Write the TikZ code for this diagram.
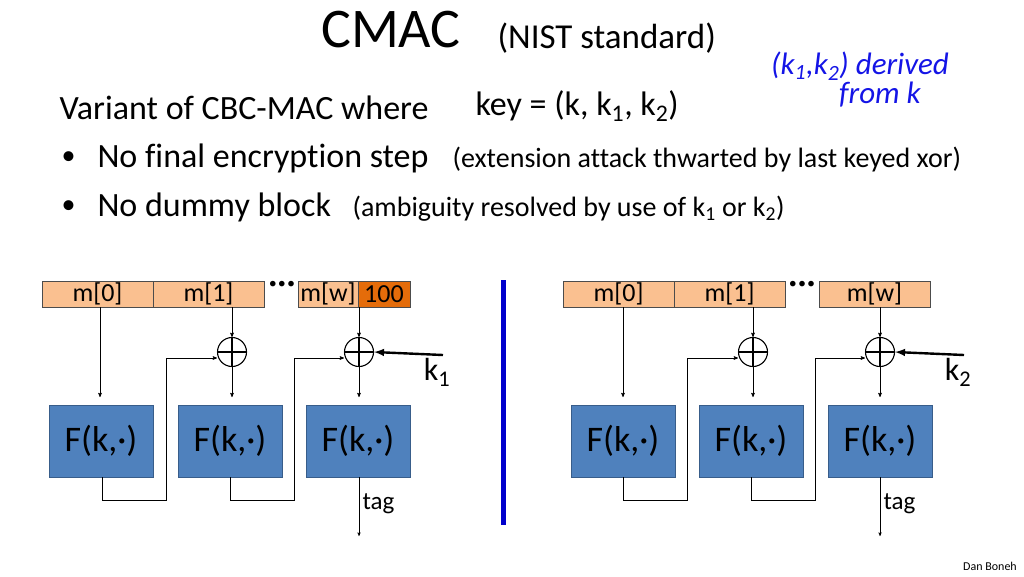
\documentclass[tikz,border=0pt]{standalone}
\usepackage{fontspec}
\setmainfont[Ligatures=NoCommon]{Carlito}
\usetikzlibrary{arrows}
\definecolor{msgfill}{RGB}{250,192,144}
\definecolor{padfill}{RGB}{228,108,10}
\definecolor{prfblue}{RGB}{79,129,189}
\definecolor{prfedge}{RGB}{56,93,138}
\definecolor{inkblue}{RGB}{20,20,230}
\newcommand{\fs}[1]{\fontsize{#1}{#1}\selectfont}
\newcommand{\sub}[1]{\textsubscript{#1}}
\newcommand{\mydots}{\textbf{\textperiodcentered\kern1pt\textperiodcentered\kern1pt\textperiodcentered}}

\begin{document}
\begin{tikzpicture}[x=1pt,y=-1pt,>=stealth',
      msg/.style={draw=black!70,fill=msgfill,minimum height=26pt,inner sep=0pt,font=\fs{26}},
      prf/.style={draw=prfedge,fill=prfblue,minimum width=104pt,minimum height=72pt,font=\fs{36}},
      xor/.style={draw,line width=1.1pt,circle,minimum size=29pt,inner sep=0pt,
        path picture={\draw[line width=1.1pt] (path picture bounding box.north) -- (path picture bounding box.south)
          (path picture bounding box.west) -- (path picture bounding box.east);}},
      wire/.style={->,semithick},
      body/.style={anchor=west,font=\fs{34}},
      note/.style={anchor=west,font=\fs{28}}]

    \useasboundingbox (0,0) rectangle (1024,576);

    % heading
    \node (title) at (391,30) {\fs{56}CMAC};
    \node[note,font=\fs{35}] (nist) at (494,38) {(NIST standard)};
    \node[inkblue,font=\fs{31}\itshape] (hw1) at (860,66) {(k\sub{1},k\sub{2}) derived};
    \node[inkblue,font=\fs{31}\itshape] (hw2) at (880,95) {from k};

    \node[body] (variant) at (56,108) {Variant of CBC-MAC where};
    \node[body] (key) at (472,106) {key = (k, k\sub{1}, k\sub{2})};
    \node[body,font=\fs{28}] (d1) at (58,158) {\textbullet};
    \node[body] (b1) at (94,158) {No final encryption step};
    \node[note] (n1) at (449,160) {(extension attack thwarted by last keyed xor)};
    \node[body,font=\fs{28}] (d2) at (58,207) {\textbullet};
    \node[body] (b2) at (94,207) {No dummy block};
    \node[note] (n2) at (349,209) {(ambiguity resolved by use of k\sub{1} or k\sub{2})};

    % left chain
    \node[msg,minimum width=111pt] (a0) at (97.5,294) {m[0]};
    \node[msg,minimum width=111pt] (a1) at (208.5,294) {m[1]};
    \node (adots) at (282,287) {\fs{30}\mydots};
    \node[msg,minimum width=60pt] (aw) at (328,294) {m[w]};
    \node[msg,fill=padfill,minimum width=52pt] (apad) at (384,294) {100};

    \node[xor] (ax1) at (232,352) {};
    \node[xor] (ax2) at (359,352) {};
    \node[prf] (af0) at (101,441) {F(k,\textperiodcentered)};
    \node[prf] (af1) at (230,441) {F(k,\textperiodcentered)};
    \node[prf] (af2) at (358,441) {F(k,\textperiodcentered)};
    \coordinate (ak) at (443,355);
    \coordinate (aout) at (359,536);

    \draw[wire] (a0.south -| 100,0) -- (100,397);
    \draw[wire] (a1.south -| ax1) -- (ax1.north);
    \draw[wire] (ax1) ++(0,15) -- (232,397);
    \draw[wire] (apad.south -| ax2) -- (ax2.north);
    \draw[wire] (ax2) ++(0,15) -- (359,397);
    \draw[wire] (af0.south -| 102,0) |- (166,500) |- (ax1.west |- 0,358);
    \draw[wire] (af1.south -| 230,0) |- (294,500) |- (ax2.west |- 0,358);
    \draw[-latex,line width=2.4pt] (ak) -- (ax2.east);
    \node (ak1) at (437,372) {\fs{32}k\sub{1}};
    \draw[->] (af2.south -| aout) -- (aout) node[pos=0.45,right,font=\fs{25}] {tag};

    % divider
    \draw[blue!80!black,line width=5pt] (503,280) -- (503,525);

    % right chain
    \node[msg,minimum width=111pt] (b0) at (618.5,294) {m[0]};
    \node[msg,minimum width=111pt] (bm1) at (729.5,294) {m[1]};
    \node (bdots) at (802,287) {\fs{30}\mydots};
    \node[msg,minimum width=111pt] (bw) at (874.5,294) {m[w]};

    \node[xor] (bx1) at (753,352) {};
    \node[xor] (bx2) at (880,352) {};
    \node[prf] (bf0) at (623,441) {F(k,\textperiodcentered)};
    \node[prf] (bf1) at (751,441) {F(k,\textperiodcentered)};
    \node[prf] (bf2) at (880,441) {F(k,\textperiodcentered)};
    \coordinate (bk) at (964,355);
    \coordinate (bout) at (880,536);

    \draw[wire] (b0.south -| 623,0) -- (623,397);
    \draw[wire] (bm1.south -| bx1) -- (bx1.north);
    \draw[wire] (bx1) ++(0,15) -- (753,397);
    \draw[wire] (bw.south -| bx2) -- (bx2.north);
    \draw[wire] (bx2) ++(0,15) -- (880,397);
    \draw[wire] (bf0.south -| 623,0) |- (687,500) |- (bx1.west |- 0,358);
    \draw[wire] (bf1.south -| 751,0) |- (815,500) |- (bx2.west |- 0,358);
    \draw[-latex,line width=2.4pt] (bk) -- (bx2.east);
    \node (bk2) at (958,372) {\fs{32}k\sub{2}};
    \draw[->] (bf2.south -| bout) -- (bout) node[pos=0.45,right,font=\fs{25}] {tag};

    \node[font=\fs{12}] (author) at (990,566) {Dan Boneh};
  \end{tikzpicture}
\end{document}
